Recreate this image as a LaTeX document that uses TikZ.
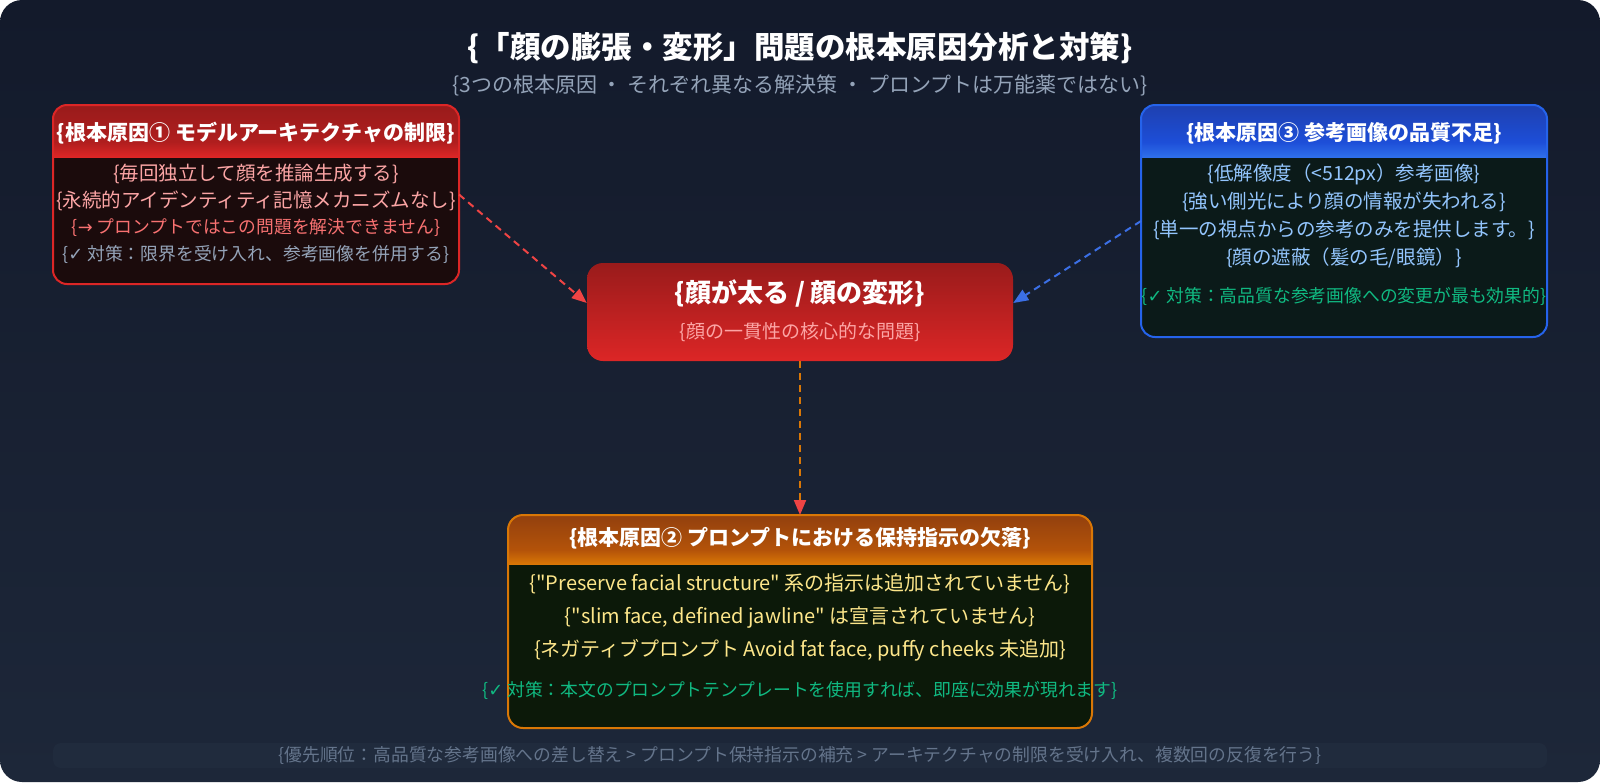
\documentclass[tikz,border=0pt]{standalone}
\usepackage{fontspec}
\setmainfont{Noto Sans CJK JP}
\newfontfamily\symfont{DejaVu Sans}
\usetikzlibrary{arrows.meta,calc}
\definecolor{bgtop}{HTML}{131A2B}
\definecolor{bgbot}{HTML}{1D2739}
\definecolor{footbar}{HTML}{202B3D}
\definecolor{redb}{HTML}{DC2626}
\definecolor{redd}{HTML}{991B1B}
\definecolor{redm}{HTML}{B01E1E}
\definecolor{redbody}{HTML}{1B0B0C}
\definecolor{blueb}{HTML}{2563EB}
\definecolor{blued}{HTML}{1E40AF}
\definecolor{bluem}{HTML}{1D4ED8}
\definecolor{bluel}{HTML}{2F6FEA}
\definecolor{bluebody}{HTML}{0B1A19}
\definecolor{orb}{HTML}{D97706}
\definecolor{ord}{HTML}{92400E}
\definecolor{orm}{HTML}{B45309}
\definecolor{orbody}{HTML}{0C1909}
\definecolor{pink}{HTML}{FCA5A5}
\definecolor{redt}{HTML}{F87171}
\definecolor{grayt}{HTML}{94A3B8}
\definecolor{foott}{HTML}{64748B}
\definecolor{bluet}{HTML}{93C5FD}
\definecolor{greent}{HTML}{10B981}
\definecolor{yellt}{HTML}{FDE68A}
\definecolor{arrred}{HTML}{EF4444}
\definecolor{arrblue}{HTML}{3B6FE6}
\begin{document}
\begin{tikzpicture}[x=1pt,y=-1pt,
  boxshape/.style={minimum width=#1, inner sep=0pt, outer sep=0pt},
  titlefont/.style={font=\fontsize{30.5}{34}\selectfont\bfseries, text=white},
  subfont/.style={font=\fontsize{21}{24}\selectfont, text=grayt},
  hdrfont/.style={font=\fontsize{21}{24}\selectfont\bfseries, text=white},
  bodyfont/.style={font=\fontsize{19.5}{22}\selectfont},
  latinfont/.style={font=\fontsize{20}{23}\selectfont},
  notefont/.style={font=\fontsize{17.8}{20}\selectfont},
  conn/.style={line width=2pt, dash pattern=on 7pt off 5pt},
  tip/.style={-{Triangle[length=15pt,width=12pt,color=#1]}}
]
\useasboundingbox (0,0) rectangle (1600,782);
\fill[white] (0,0) rectangle (1600,782);
\shade[rounded corners=22pt, top color=bgtop, bottom color=bgbot] (0,0) rectangle (1600,782);

% title
\node[titlefont] (title) at (800,48) {\{「顔の膨張・変形」問題の根本原因分析と対策\}};
\node[subfont] (subtitle) at (800,85) {\{3つの根本原因 ・ それぞれ異なる解決策 ・ プロンプトは万能薬ではない\}};

% ---------- box 1 (left)
\node[boxshape=406pt, minimum height=179pt, fill=redbody, rounded corners=14pt] (c1) at (256,194.5) {};
\begin{scope}
\clip[rounded corners=14pt] (c1.north west) rectangle (c1.south east);
\shade[top color=redd, bottom color=redm] (c1.north west) rectangle ($(c1.north east)+(0,37)$);
\shade[top color=redm, bottom color=redb] ($(c1.north west)+(0,37)$) rectangle ($(c1.north east)+(0,52)$);
\end{scope}
\draw[redb, line width=2pt, rounded corners=14pt] (c1.north west) rectangle (c1.south east);
\node[hdrfont] (c1h) at (256,133) {\{根本原因① モデルアーキテクチャの制限\}};
\node[bodyfont, text=pink] (c1a) at (256,174) {\{毎回独立して顔を推論生成する\}};
\node[bodyfont, text=pink] (c1b) at (256,201) {\{永続的アイデンティティ記憶メカニズムなし\}};
\node[notefont, text=redt] (c1c) at (256,228) {\{{\symfont →} プロンプトではこの問題を解決できません\}};
\node[notefont, text=grayt] (c1d) at (256,254) {\{{\symfont ✓} 対策：限界を受け入れ、参考画像を併用する\}};

% ---------- box 3 (right)
\node[boxshape=406pt, minimum height=232pt, fill=bluebody, rounded corners=14pt] (c3) at (1344,221) {};
\begin{scope}
\clip[rounded corners=14pt] (c3.north west) rectangle (c3.south east);
\shade[top color=blued, bottom color=bluem] (c3.north west) rectangle ($(c3.north east)+(0,37)$);
\shade[top color=bluem, bottom color=bluel] ($(c3.north west)+(0,37)$) rectangle ($(c3.north east)+(0,52)$);
\end{scope}
\draw[blueb, line width=2pt, rounded corners=14pt] (c3.north west) rectangle (c3.south east);
\node[hdrfont] (c3h) at (1344,133) {\{根本原因③ 参考画像の品質不足\}};
\node[bodyfont, text=bluet] (c3a) at (1344,174) {\{低解像度（<512px）参考画像\}};
\node[bodyfont, text=bluet] (c3b) at (1344,202) {\{強い側光により顔の情報が失われる\}};
\node[bodyfont, text=bluet] (c3c) at (1344,230) {\{単一の視点からの参考のみを提供します。\}};
\node[bodyfont, text=bluet] (c3d) at (1344,258) {\{顔の遮蔽（髪の毛/眼鏡）\}};
\node[notefont, text=greent] (c3e) at (1344,296) {\{{\symfont ✓} 対策：高品質な参考画像への変更が最も効果的\}};

% ---------- center
\shade[rounded corners=16pt, top color=redd, bottom color=redb] (587,263) rectangle (1013,361);
\node[minimum width=426pt, minimum height=98pt, inner sep=0pt] (ctr) at (800,312) {};
\node[font=\fontsize{26}{30}\selectfont\bfseries, text=white] (ctrt) at (800,293) {\{顔が太る / 顔の変形\}};
\node[font=\fontsize{19}{22}\selectfont, text=pink] (ctrs) at (800,332) {\{顔の一貫性の核心的な問題\}};

% ---------- box 2 (bottom)
\node[boxshape=584pt, minimum height=213pt, fill=orbody, rounded corners=15pt] (c2) at (800,621.5) {};
\begin{scope}
\clip[rounded corners=15pt] (c2.north west) rectangle (c2.south east);
\shade[top color=ord, bottom color=orm] (c2.north west) rectangle ($(c2.north east)+(0,35)$);
\shade[top color=orm, bottom color=orb] ($(c2.north west)+(0,35)$) rectangle ($(c2.north east)+(0,49)$);
\end{scope}
\draw[orb, line width=2pt, rounded corners=15pt] (c2.north west) rectangle (c2.south east);
\node[hdrfont] (c2h) at (800,538) {\{根本原因② プロンプトにおける保持指示の欠落\}};
\node[latinfont, text=yellt] (c2a) at (800,584) {\{\textquotedbl Preserve facial structure\textquotedbl{} 系の指示は追加されていません\}};
\node[latinfont, text=yellt] (c2b) at (800,618) {\{\textquotedbl slim face, defined jawline\textquotedbl{} は宣言されていません\}};
\node[latinfont, text=yellt] (c2c) at (800,650) {\{ネガティブプロンプト Avoid fat face, puffy cheeks 未追加\}};
\node[notefont, text=greent] (c2d) at (800,690) {\{{\symfont ✓} 対策：本文のプロンプトテンプレートを使用すれば、即座に効果が現れます\}};

% ---------- footer
\fill[footbar, rounded corners=8pt] (53,743) rectangle (1547,768);
\node[notefont, text=foott] (foot) at (800,755) {\{優先順位：高品質な参考画像への差し替え > プロンプト保持指示の補充 > アーキテクチャの制限を受け入れ、複数回の反復を行う\}};

% ---------- connectors
\draw[conn, arrred, tip=arrred] (c1.east) -- ([yshift=9pt]ctr.west);
\draw[conn, arrblue, tip=arrblue] (c3.west) -- ([yshift=9pt]ctr.east);
\draw[conn, orb, tip=arrred] (ctr.south) -- (c2.north);
\end{tikzpicture}
\end{document}
